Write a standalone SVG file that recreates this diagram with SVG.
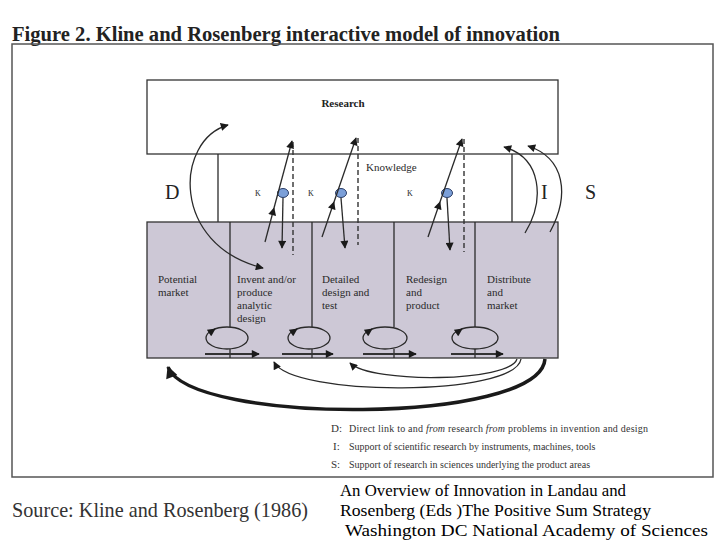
<svg xmlns="http://www.w3.org/2000/svg" width="720" height="540" viewBox="0 0 720 540">
<style>
.ln{stroke:#2a2a2a;stroke-width:1.3;fill:none}
.dash{stroke:#333;stroke-width:1.4;stroke-dasharray:5,3;fill:none}
.lbl{font-family:"Liberation Serif",serif;font-size:11px;fill:#2a2a2a}
.leg{font-family:"Liberation Serif",serif;font-size:10px;fill:#333}
.legk{font-family:"Liberation Serif",serif;font-size:11px;fill:#333}
.big{font-family:"Liberation Serif",serif;font-size:20px;fill:#222}
.k{font-family:"Liberation Serif",serif;font-size:8px;fill:#222}
.cite{font-family:"Liberation Serif",serif;font-size:17px;fill:#000}
.dot{fill:#7b9fd8;stroke:#2c3e66;stroke-width:1}
.box{stroke:#333;stroke-width:1.3}
</style>
<defs>
<marker id="ah" viewBox="0 0 10 10" refX="9" refY="5" markerWidth="9" markerHeight="8" markerUnits="userSpaceOnUse" orient="auto-start-reverse"><path d="M0,0 L10,5 L0,10 z" fill="#1a1a1a"/></marker>
<marker id="ahb" viewBox="0 0 10 10" refX="9" refY="5" markerWidth="15" markerHeight="12" markerUnits="userSpaceOnUse" orient="auto"><path d="M0,0 L10,5 L0,10 z" fill="#1a1a1a"/></marker>
</defs>
<rect width="720" height="540" fill="#fff"/>
<text x="12" y="41" font-family="'Liberation Serif',serif" font-size="20" font-weight="bold" fill="#222" textLength="548" lengthAdjust="spacingAndGlyphs">Figure 2. Kline and Rosenberg interactive model of innovation</text>
<rect x="12" y="44" width="701" height="433" fill="none" stroke="#555" stroke-width="1.5"/>

<g id="research">
<rect class="box" x="147" y="80" width="411" height="74" fill="#fff"/>
<text x="343" y="107" text-anchor="middle" font-family="'Liberation Serif',serif" font-size="11" font-weight="bold" fill="#222">Research</text>
</g>
<g id="knowledge">
<line class="ln" x1="218" y1="154" x2="218" y2="222"/>
<line class="ln" x1="512" y1="154" x2="512" y2="222"/>
<text class="lbl" x="366" y="171">Knowledge</text>
<text class="k" x="255" y="196">K</text>
<text class="k" x="308" y="196">K</text>
<text class="k" x="407" y="196">K</text>
<ellipse class="dot" cx="283" cy="193" rx="5.5" ry="4.5"/>
<ellipse class="dot" cx="341" cy="193" rx="5.5" ry="4.5"/>
<ellipse class="dot" cx="447" cy="193" rx="5.5" ry="4.5"/>
</g>
<g id="side-labels">
<text class="big" x="165" y="199">D</text>
<text class="big" x="541" y="199">I</text>
<text class="big" x="585" y="199">S</text>
</g>
<g id="chain">
<rect class="box" x="147" y="222" width="411" height="136" fill="#cdc8d6"/>
<line class="ln" x1="230" y1="222" x2="230" y2="327"/>
<line class="ln" x1="312" y1="222" x2="312" y2="327"/>
<line class="ln" x1="394" y1="222" x2="394" y2="327"/>
<line class="ln" x1="475" y1="222" x2="475" y2="327"/>
<line class="ln" x1="230" y1="349" x2="230" y2="358"/>
<line class="ln" x1="312" y1="349" x2="312" y2="358"/>
<line class="ln" x1="394" y1="349" x2="394" y2="358"/>
<line class="ln" x1="475" y1="349" x2="475" y2="358"/>
</g>
<g id="potential-market"><text class="lbl" x="158" y="283">Potential</text><text class="lbl" x="158" y="296">market</text></g>
<g id="invent"><text class="lbl" x="237" y="283">Invent and/or</text><text class="lbl" x="237" y="296">produce</text><text class="lbl" x="237" y="309">analytic</text><text class="lbl" x="237" y="322">design</text></g>
<g id="detailed"><text class="lbl" x="322" y="283">Detailed</text><text class="lbl" x="322" y="296">design and</text><text class="lbl" x="322" y="309">test</text></g>
<g id="redesign"><text class="lbl" x="406" y="283">Redesign</text><text class="lbl" x="406" y="296">and</text><text class="lbl" x="406" y="309">product</text></g>
<g id="distribute"><text class="lbl" x="487" y="283">Distribute</text><text class="lbl" x="487" y="296">and</text><text class="lbl" x="487" y="309">market</text></g>

<g id="connectors">
<line class="dash" x1="293" y1="142" x2="293" y2="255"/>
<line class="dash" x1="358" y1="138" x2="358" y2="245"/>
<line class="dash" x1="464" y1="139" x2="464" y2="252"/>
<path class="ln" d="M265 242 L274 208" marker-end="url(#ah)"/>
<path class="ln" d="M274 208 L292 141" marker-end="url(#ah)"/>
<path class="ln" d="M322 237 L334 202" marker-end="url(#ah)"/>
<path class="ln" d="M334 202 L356 138" marker-end="url(#ah)"/>
<path class="ln" d="M428 237 L440 202" marker-end="url(#ah)"/>
<path class="ln" d="M440 202 L462 139" marker-end="url(#ah)"/>
<path class="ln" d="M283 198 L282 248" marker-end="url(#ah)"/>
<path class="ln" d="M341 198 L345 248" marker-end="url(#ah)"/>
<path class="ln" d="M447 198 L450 250" marker-end="url(#ah)"/>
<path class="ln" d="M228 125 C175 140 170 245 263 268" marker-start="url(#ah)" marker-end="url(#ah)"/>
<path class="ln" d="M525 233 C545 200 542 158 504 147" marker-end="url(#ah)"/>
<path class="ln" d="M550 232 C570 195 565 158 528 146" marker-end="url(#ah)"/>
<ellipse class="ln" cx="227" cy="338" rx="21" ry="11"/>
<ellipse class="ln" cx="309" cy="338" rx="21" ry="11"/>
<ellipse class="ln" cx="385" cy="338" rx="22" ry="11"/>
<ellipse class="ln" cx="475" cy="338" rx="23" ry="11"/>
<path class="ln" d="M209 333 L215 329" marker-end="url(#ah)"/>
<path class="ln" d="M291 333 L297 329" marker-end="url(#ah)"/>
<path class="ln" d="M366 333 L372 329" marker-end="url(#ah)"/>
<path class="ln" d="M456 333 L462 329" marker-end="url(#ah)"/>
<path d="M205 354 L259 354" stroke="#333" stroke-width="2" marker-end="url(#ah)"/>
<path d="M282 354 L333 354" stroke="#333" stroke-width="2" marker-end="url(#ah)"/>
<path d="M363 354 L416 354" stroke="#333" stroke-width="2" marker-end="url(#ah)"/>
<path d="M451 354 L503 354" stroke="#333" stroke-width="2" marker-end="url(#ah)"/>
<path d="M545 359 C540 425 190 425 168 367" fill="none" stroke="#1a1a1a" stroke-width="3.5" marker-end="url(#ahb)"/>
<path class="ln" d="M521 359 C515 397 292 397 274 362" marker-end="url(#ah)"/>
<path class="ln" d="M517 359 C510 382 372 384 350 363" marker-end="url(#ah)"/>
</g>

<g id="legend">
<text class="legk" x="331" y="432">D:</text>
<text class="leg" x="349" y="432" textLength="299" lengthAdjust="spacing">Direct link to and <tspan font-style="italic">from</tspan> research <tspan font-style="italic">from</tspan> problems in invention and design</text>
<text class="legk" x="333" y="450">I:</text>
<text class="leg" x="349" y="450">Support of scientific research by instruments, machines, tools</text>
<text class="legk" x="331" y="468">S:</text>
<text class="leg" x="349" y="468">Support of research in sciences underlying the product areas</text>
</g>
<g id="source">
<text x="12" y="517" font-family="'Liberation Serif',serif" font-size="22" fill="#333" textLength="296" lengthAdjust="spacingAndGlyphs">Source: Kline and Rosenberg (1986)</text>
</g>
<g id="citation">
<text class="cite" x="340" y="496" textLength="286" lengthAdjust="spacingAndGlyphs">An Overview of Innovation in Landau and</text>
<text class="cite" x="340" y="516" textLength="311" lengthAdjust="spacingAndGlyphs">Rosenberg (Eds )The Positive Sum Strategy</text>
<text class="cite" x="345" y="536" textLength="363" lengthAdjust="spacingAndGlyphs">Washington DC National Academy of Sciences</text>
</g>
</svg>
